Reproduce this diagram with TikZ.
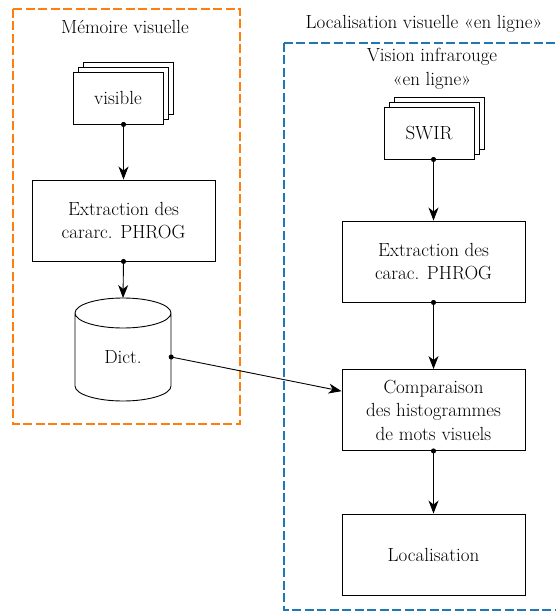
\documentclass[tikz,border=0pt]{standalone}
\usepackage{fontspec}
\usetikzlibrary{arrows.meta,calc}
\definecolor{myorange}{RGB}{255,127,14}
\definecolor{myblue}{RGB}{31,119,180}
\begin{document}
\begin{tikzpicture}[x=1pt,y=-1pt,
  every node/.style={font=\fontsize{19}{23.5}\selectfont, align=center, inner sep=0pt},
  procbox/.style={draw, line width=0.9pt, minimum width=183pt, minimum height=81pt},
  stackbox/.style={draw, fill=white, line width=0.9pt, minimum width=90pt, minimum height=52pt},
  group/.style={line width=1.8pt, dash pattern=on 9pt off 3.5pt},
  conn/.style={line width=0.9pt, shorten <=-2.5pt, {Circle[length=5pt]}-{Stealth[length=13pt,width=10pt,inset=4pt]}},
]
\useasboundingbox (0,0) rectangle (555,612);

% groups
\draw[group, myorange] (13,9) rectangle (240,424);
\draw[group, myblue] (284,43) rectangle (565,610);
\node (ttl) at (125,27) {Mémoire visuelle};
\node (ttr) at (424,24) {Localisation visuelle «en ligne»};
\node (vir) at (432,69) {Vision infrarouge\\«en ligne»};

% visible stack
\node[stackbox] (vis3) at (128,88) {};
\node[stackbox] (vis2) at (123,93) {};
\node[stackbox] (vis) at (118,98) {visible};

% SWIR stack
\node[stackbox] (sw3) at (439,123) {};
\node[stackbox] (sw2) at (434,128) {};
\node[stackbox] (sw) at (429,133) {SWIR};

% boxes
\node[procbox] (extl) at (123.5,220.5) {Extraction des\\cararc. PHROG};
\node[procbox] (extr) at (433.5,261.5) {Extraction des\\carac. PHROG};
\node[procbox] (comp) at (433.5,410) {Comparaison\\des histogrammes\\de mots visuels};
\node[procbox] (loc) at (433.5,554.5) {Localisation};

% cylinder
\node[minimum width=96pt, minimum height=88pt] (dict) at (123,357) {Dict.};
\draw[line width=0.9pt] (75,313) -- (75,386) arc[start angle=180, end angle=360, x radius=48pt, y radius=15pt]
  -- (171,313) arc[start angle=0, end angle=360, x radius=48pt, y radius=15pt];

% connectors
\draw[conn] (extl.north |- vis.south) -- (extl.north);
\draw[conn] (extl.south) -- (123,298);
\draw[conn] (dict.east) -- ($(comp.north west)!0.27!(comp.south west)$);
\draw[conn] (extr.north |- sw.south) -- (extr.north);
\draw[conn] (extr.south) -- (comp.north);
\draw[conn] (comp.south) -- (loc.north);
\end{tikzpicture}
\end{document}
